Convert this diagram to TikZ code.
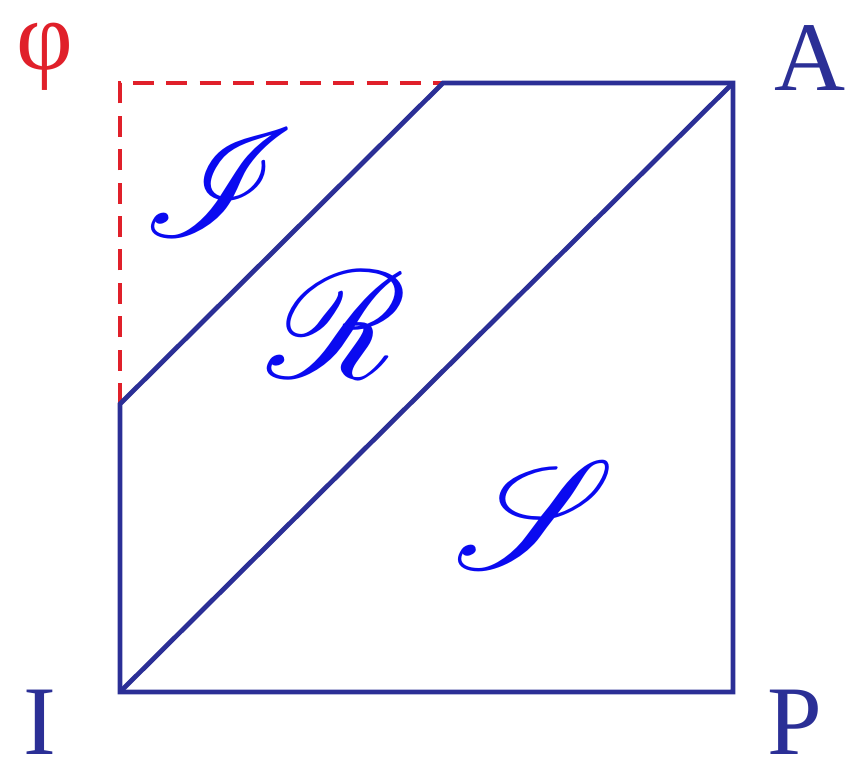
\documentclass[tikz,border=0pt]{standalone}
\usepackage{fontspec}
\setmainfont{Liberation Serif}
\usepackage{mathrsfs}

\begin{document}
\begin{tikzpicture}
    \definecolor{lineColour}{HTML}{2B2F96}
    \definecolor{dashColour}{HTML}{E0202A}
    \definecolor{letterColour}{HTML}{0A0AF0}

    \tikzset{
        edge/.style={lineColour, line width=1.35pt, line join=miter},
        corner/.style={text=lineColour, font=\fontsize{28}{30}\selectfont, inner sep=0pt},
        region/.style={text=letterColour, font=\fontsize{24.88}{26}\selectfont, scale=1.75}
    }

    \useasboundingbox (0,0) rectangle (8.57,7.65);

    % Corners of the square
    \coordinate (I) at (1.20,0.73);
    \coordinate (P) at (7.33,0.73);
    \coordinate (A) at (7.33,6.82);
    \coordinate (Phi) at (1.20,6.82);

    % Ends of the inner line
    \coordinate (L) at (1.20,3.61);
    \coordinate (T) at (4.43,6.82);

    % Dashed part
    \draw[dashColour, line width=1.35pt, dash pattern=on 6pt off 3.5pt] (L) -- (Phi) -- (T);

    % Solid outline and lines
    \draw[edge] (T) -- (A) -- (P) -- (I) -- (L) -- cycle;
    \draw[edge] (I) -- (A);

    % Corner labels
    \node[corner, text=dashColour] (phiLabel) at (0.45,7.08) {φ};
    \node[corner] (aLabel) at (8.10,7.07) {A};
    \node[corner] (iLabel) at (0.40,0.43) {I};
    \node[corner] (pLabel) at (7.95,0.43) {P};

    % Region labels
    \node[region] (regI) at (2.19,5.82) {$\mathscr{I}$};
    \node[region] (regR) at (3.37,4.40) {$\mathscr{R}$};
    \node[region] (regS) at (5.35,2.50) {$\mathscr{S}$};

\end{tikzpicture}
\end{document}
